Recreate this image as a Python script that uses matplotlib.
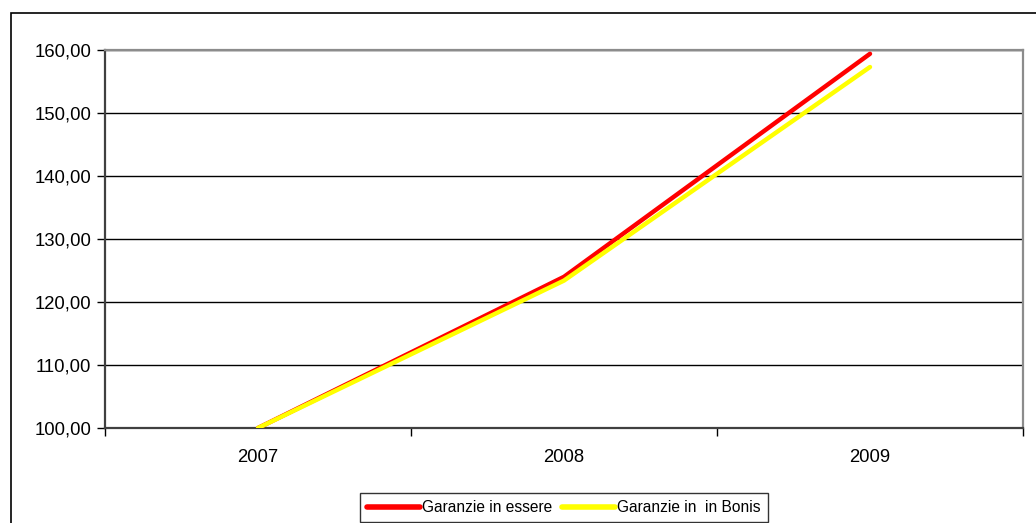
import matplotlib
matplotlib.use("Agg")
import matplotlib.pyplot as plt
from matplotlib.ticker import FixedLocator, FuncFormatter
from matplotlib.patches import Rectangle

plt.rcParams['font.family'] = ['Liberation Sans', 'DejaVu Sans']

years = ["2007", "2008", "2009"]
in_essere = [100.0, 124.0, 159.4]
in_bonis = [100.0, 123.4, 157.3]
y_ticks = [100, 110, 120, 130, 140, 150, 160]

W, H = 1036, 523
fig = plt.figure(figsize=(W / 100, H / 100), dpi=100)

# outer chart frame
fig.patches.append(Rectangle((11 / W, -0.1), 1.2, (H - 13) / H + 0.1,
                             transform=fig.transFigure, fill=False,
                             edgecolor='#000000', linewidth=1.2))

ax = fig.add_axes([105 / W, (H - 428) / H, (1023 - 105) / W, (428 - 50) / H])
x = list(range(len(years)))
ax.plot(x, in_essere, color='#ff0000', linewidth=3.2, solid_capstyle='round',
        label='Garanzie in essere', zorder=3)
ax.plot(x, in_bonis, color='#ffff00', linewidth=3.2, solid_capstyle='round',
        label='Garanzie in  in Bonis', zorder=3)

ax.set_xlim(-0.5, len(years) - 0.5)
ax.set_ylim(100, 160)
ax.yaxis.set_major_locator(FixedLocator(y_ticks))
ax.yaxis.set_major_formatter(FuncFormatter(lambda v, p: f"{v:.2f}".replace('.', ',')))
ax.grid(axis='y', color='#000000', linewidth=1.0)
ax.set_axisbelow(True)

ax.set_xticks(x)
ax.set_xticklabels(years)
ax.xaxis.set_minor_locator(FixedLocator([i - 0.5 for i in range(len(years) + 1)]))
ax.tick_params(axis='x', which='major', length=0, pad=15, labelsize=13.3)
ax.tick_params(axis='x', which='minor', length=6, width=1, color='#000000', direction='out')
ax.tick_params(axis='y', length=6, width=1, color='#000000', labelsize=13.3, pad=4)

for side in ['left', 'bottom']:
    ax.spines[side].set_color('#404040')
    ax.spines[side].set_linewidth(1.6)
for side in ['top', 'right']:
    ax.spines[side].set_color('#8c8c8c')
    ax.spines[side].set_linewidth(1.6)

leg = fig.legend(loc='center', bbox_to_anchor=(564 / W, (H - 507.5) / H), ncol=2,
                 frameon=True, fancybox=False, edgecolor='#000000', fontsize=11.2,
                 handlelength=3.4, handletextpad=0.15, columnspacing=0.6,
                 borderpad=0.45, borderaxespad=0)
leg.get_frame().set_linewidth(1.0)
for line in leg.get_lines():
    line.set_linewidth(4.0)

fig.savefig("out.png", dpi=100)
